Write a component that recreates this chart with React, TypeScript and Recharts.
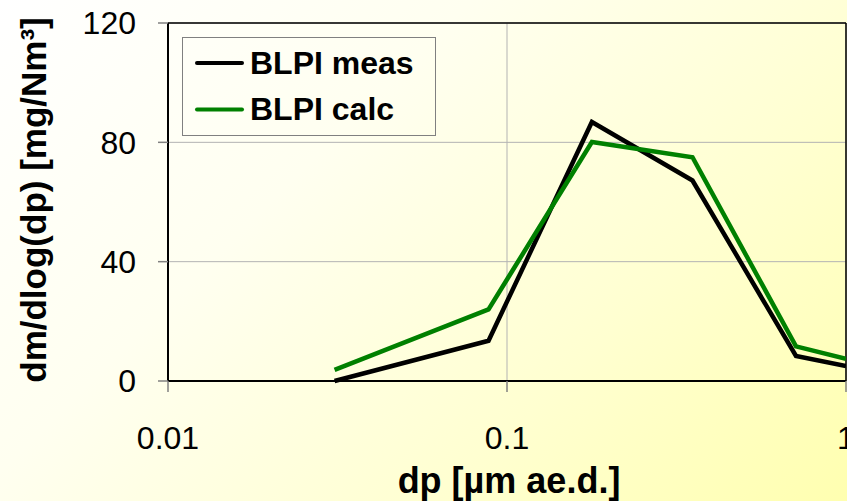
import React from 'react';
import {
  LineChart,
  Line,
  XAxis,
  YAxis,
  CartesianGrid,
  Legend,
  ReferenceLine,
} from 'recharts';

// Impactor stage diameters (µm, aerodynamic) and mass size distributions
const diameters = [0.031, 0.0882, 0.178, 0.3525, 0.712, 1.0];
const blpiMeas = [0, 13.5, 86.8, 67.2, 8.4, 5.0];
const blpiCalc = [3.7, 24.0, 80.1, 75.0, 11.6, 7.4];

const xTicks = [0.01, 0.1, 1];
const yTicks = [0, 40, 80, 120];

const seriesNames = { meas: 'BLPI meas', calc: 'BLPI calc' };
const seriesOrder = ['meas', 'calc'];

const data = diameters.map((dp, i) => ({
  dp,
  meas: blpiMeas[i],
  calc: blpiCalc[i],
}));

const FONT = '"Liberation Sans", Arial, Helvetica, sans-serif';

const LegendBox = (props: any) => {
  const payload = [...(props.payload || [])].sort(
    (a: any, b: any) => seriesOrder.indexOf(a.dataKey) - seriesOrder.indexOf(b.dataKey)
  );
  return (
    <svg width={254} height={99} style={{ display: 'block' }}>
      <rect x={0.5} y={0.5} width={253} height={98} fill="none" stroke="#808080" strokeWidth={1} />
      {payload.map((entry: any, i: number) => {
        const cy = 26 + i * 46.5;
        return (
          <g key={entry.value}>
            <line x1={15} x2={60} y1={cy} y2={cy} stroke={entry.color} strokeWidth={4} strokeLinecap="round" />
            <text x={68} y={cy + 10.8} fontFamily={FONT} fontWeight="bold" fontSize={32} fill="#000">
              {entry.value}
            </text>
          </g>
        );
      })}
    </svg>
  );
};

export default function App() {
  return (
    <div
      style={{
        position: 'absolute',
        left: 0,
        top: 0,
        width: 847,
        height: 501,
        background: 'linear-gradient(135deg, #ffffff 0%, #fffff0 35%, #ffffd0 70%, #ffffb0 100%)',
      }}
    >
      <LineChart
        width={847}
        height={501}
        data={data}
        margin={{ top: 23, right: 1, bottom: 0, left: 0 }}
      >
        <CartesianGrid stroke="#b3b3b3" strokeWidth={1} />
        <XAxis
          dataKey="dp"
          type="number"
          scale="log"
          domain={[0.01, 1]}
          ticks={xTicks}
          interval={0}
          allowDataOverflow
          height={120}
          tickSize={11}
          tickMargin={34}
          axisLine={{ stroke: '#000', strokeWidth: 2 }}
          tickLine={{ stroke: '#808080', strokeWidth: 1.5 }}
          tick={{ fontSize: 32, fill: '#000', fontFamily: FONT }}
          tickFormatter={(v: number) => String(v)}
          label={{
            content: () => (
              <text x={509} y={493} textAnchor="middle" fontFamily={FONT} fontWeight="bold" fontSize={36} fill="#000">
                dp [µm ae.d.]
              </text>
            ),
          }}
        />
        <YAxis
          type="number"
          domain={[0, 120]}
          ticks={yTicks}
          interval={0}
          width={168}
          tickSize={10}
          tickMargin={22}
          axisLine={{ stroke: '#000', strokeWidth: 2 }}
          tickLine={{ stroke: '#808080', strokeWidth: 1.5 }}
          tick={{ fontSize: 32, fill: '#000', fontFamily: FONT }}
          label={{
            content: () => (
              <text
                x={46}
                y={200}
                transform="rotate(-90 46 200)"
                textAnchor="middle"
                fontFamily={FONT}
                fontWeight="bold"
                fontSize={35}
                fill="#000"
              >
                dm/dlog(dp) [mg/Nm³]
              </text>
            ),
          }}
        />
        <ReferenceLine y={120} stroke="#000" strokeWidth={1.5} />
        <ReferenceLine x={1} stroke="#000" strokeWidth={1.5} />
        <Legend
          layout="horizontal"
          verticalAlign="middle"
          align="center"
          content={<LegendBox />}
          wrapperStyle={{ position: 'absolute', left: 182, top: 37, width: 254, height: 99 }}
        />
        <Line
          type="linear"
          dataKey="meas"
          name={seriesNames.meas}
          stroke="#000000"
          strokeWidth={4.5}
          dot={false}
          isAnimationActive={false}
        />
        <Line
          type="linear"
          dataKey="calc"
          name={seriesNames.calc}
          stroke="#008000"
          strokeWidth={4.5}
          dot={false}
          isAnimationActive={false}
        />
      </LineChart>
    </div>
  );
}
